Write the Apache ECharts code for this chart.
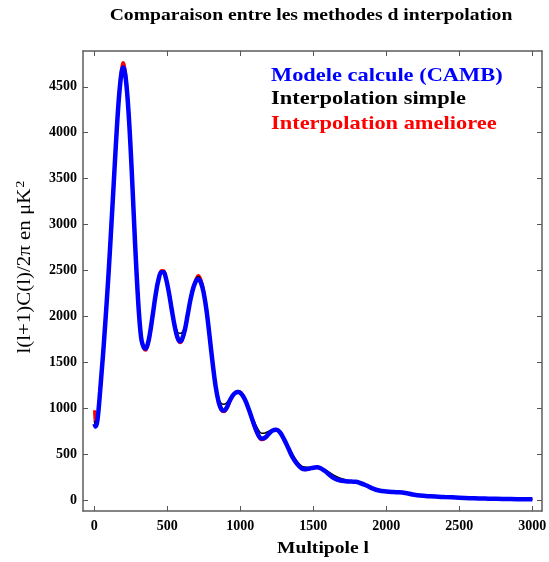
<!DOCTYPE html>
<html>
<head>
<meta charset="utf-8">
<script src="https://cdn.jsdelivr.net/npm/echarts@6/dist/echarts.min.js"></script>
<style>
html,body{margin:0;padding:0;background:#fff;}
#chart{width:549px;height:562px;}
</style>
</head>
<body>
<div id="chart"></div>
<script>
// Multipole values
const multipoles = [2,10,20,30,40,50,60,70,80,90,100,110,120,130,140,150,160,170,180,190,198,205,215,225,235,245,255,265,275,285,295,305,315,325,340,352,365,380,400,420,440,460,475,490,510,530,550,570,587,600,620,640,660,680,700,712,730,750,770,790,810,830,850,870,888,905,925,945,965,985,1005,1030,1060,1090,1120,1146,1170,1195,1220,1245,1270,1300,1330,1360,1390,1420,1443,1470,1500,1525,1550,1580,1610,1640,1680,1720,1760,1790,1820,1860,1900,1950,2000,2050,2090,2130,2180,2230,2300,2400,2500,2600,2700,2800,2900,3000];
// Modele calcule (CAMB)
const cambValues = [830,800,850,990,1180,1380,1580,1800,2030,2270,2520,2790,3070,3350,3640,3920,4180,4400,4570,4680,4710,4690,4600,4440,4220,3950,3640,3300,2950,2620,2320,2060,1860,1730,1660,1650,1690,1800,2010,2230,2400,2480,2480,2420,2270,2080,1900,1770,1728,1745,1850,2020,2190,2320,2395,2405,2370,2250,2050,1780,1500,1250,1080,990,975,1000,1070,1130,1165,1175,1160,1100,980,840,720,670,680,720,755,765,740,660,560,460,390,345,335,340,352,356,345,315,275,240,215,205,200,198,185,160,130,103,92,86,83,75,60,48,40,32,25,18,14,11,9,7];
// Interpolation simple
const simpleValues = [860,810,855,990,1180,1380,1580,1800,2030,2270,2520,2790,3070,3350,3640,3920,4180,4400,4570,4680,4715,4690,4600,4440,4220,3950,3640,3300,2950,2620,2320,2060,1860,1735,1670,1665,1700,1800,2010,2230,2395,2475,2475,2415,2270,2095,1935,1830,1815,1820,1890,2035,2200,2335,2420,2435,2395,2265,2060,1790,1515,1275,1120,1050,1043,1055,1095,1140,1170,1175,1160,1105,1000,875,775,728,730,750,765,765,740,670,585,495,420,370,358,355,358,358,350,330,300,270,240,220,205,200,185,162,135,108,95,88,84,76,62,50,41,32,25,18,14,11,9,7];
// Interpolation amelioree
const amelioreeValues = [978,815,850,990,1180,1380,1580,1800,2030,2270,2520,2790,3070,3350,3640,3920,4180,4420,4600,4730,4765,4745,4640,4460,4220,3950,3640,3300,2950,2620,2320,2060,1860,1725,1645,1630,1675,1800,2010,2230,2410,2500,2498,2430,2270,2075,1890,1755,1712,1730,1840,2020,2195,2330,2420,2445,2405,2270,2060,1780,1495,1240,1065,975,960,985,1060,1130,1170,1185,1170,1105,975,830,705,655,670,715,755,770,745,655,555,455,385,340,330,338,352,358,345,313,272,238,212,203,200,199,185,160,130,102,92,86,83,75,60,48,40,32,25,18,14,11,9,7];

const xTicks = [0,500,1000,1500,2000,2500,3000];
const yTicks = [0,500,1000,1500,2000,2500,3000,3500,4000,4500];

const titleText = 'Comparaison entre les methodes d interpolation';
const xName = 'Multipole l';
const yName = 'l(l+1)C(l)/2π en μK';
const legendNames = ['Modele calcule (CAMB)','Interpolation simple','Interpolation amelioree'];

function pairs(xs, ys){ return xs.map((x,i)=>[x, ys[i]]); }

const frameLine = {show:true, onZero:false, lineStyle:{color:'#5c5c5c', width:1.5}};
const tickStyle = (vals)=>({show:true, inside:true, length:5, customValues:vals, lineStyle:{color:'#555', width:1}});
const labelFont = {fontFamily:'Liberation Serif', fontWeight:'bold', fontSize:14, color:'#000', formatter:(v)=>String(v)};

const chart = echarts.init(document.getElementById('chart'), null, {renderer:'canvas'});
chart.setOption({
  animation:false,
  backgroundColor:'#fff',
  grid:{left:83, right:7, top:51, bottom:51, outerBoundsMode:'none'},
  xAxis:[
    {type:'value', min:-77, max:3066, position:'bottom', axisLine:frameLine, axisTick:tickStyle(xTicks),
     axisLabel:Object.assign({customValues:xTicks, margin:8}, labelFont), splitLine:{show:false}},
    {type:'value', min:-77, max:3066, position:'top', axisLine:frameLine, axisTick:tickStyle(xTicks),
     axisLabel:{show:false}, splitLine:{show:false}}
  ],
  yAxis:[
    {type:'value', min:-120, max:4890, position:'left', axisLine:frameLine, axisTick:tickStyle(yTicks),
     axisLabel:Object.assign({customValues:yTicks, margin:6}, labelFont), splitLine:{show:false}},
    {type:'value', min:-120, max:4890, position:'right', axisLine:frameLine, axisTick:tickStyle(yTicks),
     axisLabel:{show:false}, splitLine:{show:false}}
  ],
  series:[
    {name:legendNames[2], type:'line', data:pairs(multipoles, amelioreeValues), showSymbol:false, smooth:0.4,
     lineStyle:{color:'#ff0000', width:3}, itemStyle:{color:'#ff0000'}, z:2},
    {name:legendNames[1], type:'line', data:pairs(multipoles, simpleValues), showSymbol:false, smooth:0.4,
     lineStyle:{color:'#000000', width:1.5}, itemStyle:{color:'#000'}, z:3},
    {name:legendNames[0], type:'line', data:pairs(multipoles, cambValues), showSymbol:false, smooth:0.4,
     lineStyle:{color:'#0000ff', width:4.5}, itemStyle:{color:'#0000ff'}, z:4}
  ],
  graphic:[
    {type:'text', x:311, y:16, scaleX:1.155, z:10,
     style:{text:titleText, font:'bold 17px "Liberation Serif"', fill:'#000', align:'center', verticalAlign:'middle'}},
    {type:'text', x:323, y:549, scaleX:1.15, z:10,
     style:{text:xName, font:'bold 17px "Liberation Serif"', fill:'#000', align:'center', verticalAlign:'middle'}},
    {type:'text', x:25, y:267, rotation:Math.PI/2, scaleX:1.1, z:10,
     style:{text:yName + '{sup|2}', font:'19px "Liberation Serif"', fill:'#000', align:'center', verticalAlign:'middle',
       rich:{sup:{font:'13px "Liberation Serif"', fill:'#000', verticalAlign:'bottom', padding:[0,0,9,1]}}}},
    {type:'text', x:271, y:76, scaleX:1.18, z:10,
     style:{text:legendNames[0], font:'bold 19px "Liberation Serif"', fill:'#0000ff', align:'left', verticalAlign:'middle'}},
    {type:'text', x:271, y:99.5, scaleX:1.18, z:10,
     style:{text:legendNames[1], font:'bold 19px "Liberation Serif"', fill:'#000000', align:'left', verticalAlign:'middle'}},
    {type:'text', x:271, y:124, scaleX:1.18, z:10,
     style:{text:legendNames[2], font:'bold 19px "Liberation Serif"', fill:'#ff0000', align:'left', verticalAlign:'middle'}}
  ]
});
</script>
</body>
</html>
